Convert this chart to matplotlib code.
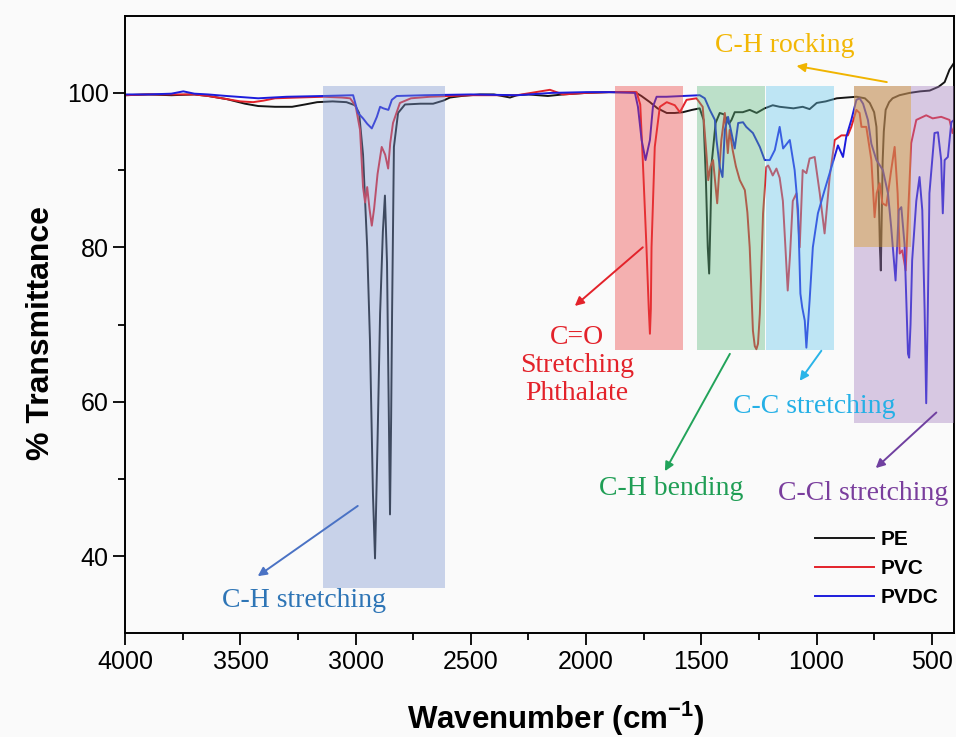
import matplotlib
matplotlib.use("Agg")
import matplotlib.pyplot as plt

# FTIR spectra (wavenumber, % transmittance)
pe_wn = [4000, 3900, 3800, 3700, 3640, 3560, 3480, 3423, 3350, 3276, 3220, 3167, 3100, 3040,
         3003, 2985, 2968, 2950, 2938, 2925, 2916, 2905, 2894, 2882, 2873, 2864, 2856, 2851,
         2846, 2842, 2834, 2816, 2786, 2720, 2664, 2620, 2591, 2540, 2461, 2400, 2330, 2300,
         2250, 2166, 2100, 2000, 1900, 1788, 1760, 1723, 1690, 1650, 1615, 1580, 1540, 1507,
         1490, 1480, 1472, 1466, 1460, 1455, 1438, 1420, 1400, 1380, 1369, 1355, 1320, 1290,
         1260, 1225, 1190, 1160, 1100, 1060, 1030, 999, 960, 912, 870, 826, 790, 769, 750,
         740, 730, 725, 721, 717, 713, 708, 700, 685, 670, 640, 596, 550, 509, 470, 444, 423, 403]
pe_t = [99.7, 99.8, 99.7, 99.8, 99.6, 99.2, 98.6, 98.3, 98.2, 98.2, 98.5, 98.8, 98.9, 98.8,
        98.4, 97.4, 92.0, 80.0, 68.0, 48.0, 39.7, 55.0, 71.4, 82.0, 86.7, 78.0, 58.0, 45.4,
        58.0, 71.4, 93.0, 97.4, 98.5, 98.6, 98.6, 99.0, 99.4, 99.6, 99.8, 99.8, 99.4, 99.7,
        99.8, 99.6, 99.8, 100.0, 100.1, 100.1, 99.6, 98.8, 98.0, 97.4, 97.4, 97.5, 97.8, 98.0,
        96.5, 88.7, 80.0, 76.6, 84.0, 90.9, 96.1, 97.4, 97.2, 96.0, 96.5, 97.5, 97.5, 97.8,
        97.4, 98.0, 98.4, 98.2, 98.0, 98.2, 97.9, 98.7, 98.9, 99.3, 99.4, 99.5, 99.3, 98.7, 97.5,
        95.6, 87.0, 80.0, 77.0, 84.0, 91.2, 95.0, 97.8, 98.8, 99.3, 99.7, 100.0, 100.2, 100.3,
        100.8, 101.4, 103.0, 103.9]

pvc_wn = [4000, 3900, 3800, 3700, 3640, 3560, 3500, 3445, 3400, 3350, 3250, 3141, 3060, 3024,
          3000, 2981, 2968, 2959, 2950, 2940, 2930, 2920, 2905, 2887, 2872, 2859, 2850, 2838,
          2808, 2760, 2677, 2500, 2300, 2157, 2100, 2000, 1900, 1781, 1765, 1754, 1738, 1728,
          1723, 1719, 1716, 1702, 1680, 1650, 1615, 1593, 1564, 1521, 1494, 1478, 1470, 1460,
          1449, 1440, 1431, 1422, 1413, 1398, 1385, 1377, 1364, 1350, 1333, 1311, 1300, 1290,
          1276, 1268, 1261, 1254, 1246, 1232, 1218, 1210, 1203, 1190, 1174, 1160, 1146, 1135,
          1125, 1115, 1103, 1087, 1073, 1060, 1044, 1030, 1008, 986, 965, 943, 921, 892, 864,
          849, 827, 813, 805, 784, 762, 748, 739, 726, 714, 697, 676, 661, 648, 639, 628, 613,
          605, 589, 567, 524, 496, 459, 423, 410, 403]
pvc_t = [99.7, 99.8, 99.8, 99.8, 99.6, 99.2, 98.9, 98.8, 99.0, 99.3, 99.4, 99.5, 99.4, 99.3,
         98.3, 95.2, 87.8, 85.8, 87.8, 85.0, 82.8, 85.0, 89.5, 93.0, 92.0, 90.2, 93.5, 96.1,
         98.7, 99.3, 99.5, 99.7, 99.7, 100.4, 99.8, 100.0, 100.1, 100.1, 98.5, 91.3, 80.0, 72.0,
         68.8, 72.0, 80.0, 93.0, 98.2, 98.8, 98.4, 97.5, 99.1, 99.3, 98.2, 92.2, 88.7, 90.5,
         91.3, 88.5, 85.7, 90.0, 93.9, 97.4, 92.2, 95.2, 92.6, 90.5, 88.7, 87.4, 84.5, 80.0,
         69.2, 67.2, 66.8, 67.5, 71.4, 84.4, 90.4, 90.6, 90.2, 89.3, 90.2, 89.0, 86.0, 80.0,
         74.4, 79.0, 86.0, 87.0, 80.0, 90.0, 89.6, 91.5, 91.7, 87.0, 81.8, 89.1, 93.9, 94.5, 94.5,
         95.6, 97.8, 97.4, 95.6, 95.6, 91.3, 83.9, 87.0, 88.3, 85.7, 85.4, 90.0, 93.0, 87.0, 79.2,
         79.6, 77.0, 82.6, 93.5, 96.5, 97.1, 96.7, 96.9, 96.5, 94.8, 95.5]

pvdc_wn = [4000, 3900, 3800, 3748, 3700, 3640, 3560, 3423, 3300, 3141, 3011, 2990, 2968, 2950,
           2930, 2918, 2908, 2894, 2880, 2858, 2843, 2822, 2700, 2500, 2300, 2150, 2000, 1900,
           1788, 1775, 1759, 1742, 1723, 1710, 1694, 1651, 1580, 1507, 1485, 1463, 1441, 1434,
           1420, 1408, 1398, 1384, 1369, 1355, 1340, 1319, 1305, 1276, 1246, 1225, 1203, 1181,
           1160, 1145, 1116, 1095, 1080, 1070, 1062, 1051, 1044, 1030, 1016, 994, 965, 935, 907,
           885, 871, 849, 827, 813, 798, 777, 762, 740, 712, 690, 676, 657, 643, 632, 618, 603,
           598, 592, 585, 567, 553, 541, 531, 524, 517, 510, 488, 473, 459, 452, 444, 430, 415, 403]
pvdc_t = [99.8, 99.8, 99.9, 100.2, 99.9, 99.8, 99.6, 99.3, 99.5, 99.6, 99.7, 97.4, 96.7, 96.0,
          95.4, 96.2, 96.9, 98.2, 98.0, 97.8, 99.1, 99.6, 99.7, 99.8, 99.7, 100.0, 100.1, 100.1,
          100.0, 98.2, 93.9, 91.3, 93.9, 98.2, 99.5, 99.5, 99.6, 99.7, 99.3, 97.8, 96.5, 93.9,
          90.4, 89.1, 95.2, 96.9, 94.8, 92.8, 96.1, 96.2, 95.6, 94.8, 93.0, 91.3, 91.3, 92.6,
          95.6, 92.8, 93.9, 90.0, 84.8, 74.0, 72.2, 70.5, 67.0, 73.1, 80.0, 84.4, 87.4, 90.4, 93.2,
          91.7, 94.3, 96.5, 99.1, 99.3, 98.6, 96.5, 93.4, 91.3, 90.0, 87.0, 82.6, 75.7, 84.8, 85.2,
          80.4, 66.2, 65.7, 70.0, 78.3, 86.0, 89.1, 84.8, 72.0, 59.8, 72.0, 87.0, 94.8, 94.9, 91.3,
          84.4, 91.3, 91.7, 96.2, 96.5]

series_names = ["PE", "PVC", "PVDC"]

# highlighted bands: (high wn, low wn, bottom %T, top %T)
band_ch_stretch = (3141, 2612, 35.9, 100.9)
band_co = (1875, 1579, 66.7, 100.9)
band_ch_bend = (1519, 1222, 66.7, 100.9)
band_cc = (1218, 926, 66.7, 100.9)
band_ccl = (839, 403, 57.2, 100.9)
band_ch_rock = (839, 589, 80.0, 100.9)

plt.rcParams['font.family'] = ['Liberation Sans', 'DejaVu Sans']
plt.rcParams['mathtext.default'] = 'regular'

bg = '#fafafa'
fig = plt.figure(figsize=(9.56, 7.37), dpi=100, facecolor=bg)
ax = fig.add_axes([0.131, 0.1407, 0.867, 0.838], facecolor=bg)

l1, = ax.plot(pe_wn, pe_t, color='#151515', lw=1.4, zorder=2)
l2, = ax.plot(pvc_wn, pvc_t, color='#e3222a', lw=1.4, zorder=2)
l3, = ax.plot(pvdc_wn, pvdc_t, color='#1c1cdc', lw=1.4, zorder=2)

def band(b, color, alpha=0.4):
    hi, lo, bot, top = b
    ax.fill_between([hi, lo], bot, top, color=color, alpha=alpha, lw=0, zorder=3)

band(band_ch_stretch, '#7d98d0')
band(band_co, '#eb4343')
band(band_ch_bend, '#5fb980')
band(band_cc, '#66c6eb')
band(band_ccl, '#a37dbe')
band(band_ch_rock, '#d89b1a')

serif = ['Liberation Serif', 'DejaVu Serif']
arrow = lambda c: dict(arrowstyle='-|>', color=c, lw=1.4, mutation_scale=13, shrinkA=0, shrinkB=0)

ax.annotate('', xy=(3425, 37.4), xytext=(2991, 46.5), arrowprops=arrow('#4a72c4'), zorder=4)
ax.text(3225, 34.3, 'C-H stretching', color='#2e75b6', fontsize=20, family=serif,
        ha='center', va='center')

ax.annotate('', xy=(2049, 72.4), xytext=(1754, 80.0), arrowprops=arrow('#e3222a'), zorder=4)
ax.text(2040, 64.7, 'C=O\nStretching\nPhthalate', color='#e3222a', fontsize=20, family=serif,
        ha='center', va='center', linespacing=1.15)

ax.annotate('', xy=(1658, 51.0), xytext=(1376, 66.2), arrowprops=arrow('#22a35a'), zorder=4)
ax.text(1632, 48.8, 'C-H bending', color='#1f9e55', fontsize=20, family=serif,
        ha='center', va='center')

ax.annotate('', xy=(1073, 62.7), xytext=(979, 66.6), arrowprops=arrow('#2ab4e8'), zorder=4)
ax.text(1010, 59.4, 'C-C stretching', color='#25b0e6', fontsize=20, family=serif,
        ha='center', va='center', zorder=5)

ax.annotate('', xy=(743, 51.4), xytext=(480, 58.6), arrowprops=arrow('#7040a0'), zorder=4)
ax.text(799, 48.1, 'C-Cl stretching', color='#7a3e9d', fontsize=20, family=serif,
        ha='center', va='center')

ax.annotate('', xy=(1087, 103.5), xytext=(695, 101.4), arrowprops=arrow('#f0b400'), zorder=4)
ax.text(1138, 106.2, 'C-H rocking', color='#f2b705', fontsize=20, family=serif,
        ha='center', va='center')

ax.set_xlim(4000, 403)
ax.set_ylim(30, 110)
ax.set_xticks([4000, 3500, 3000, 2500, 2000, 1500, 1000, 500])
ax.set_xticks([3750, 3250, 2750, 2250, 1750, 1250, 750], minor=True)
ax.set_yticks([40, 60, 80, 100])
ax.set_yticks([50, 70, 90], minor=True)
ax.tick_params(which='both', direction='out', top=False, right=False, width=1.3, labelsize=18)
ax.tick_params(which='major', length=8.5)
ax.tick_params(which='minor', length=5)
for s in ax.spines.values():
    s.set_linewidth(1.4)

ax.set_xlabel('Wavenumber (cm$^{-1}$)', fontsize=22.5, fontweight='bold')
ax.set_ylabel('% Transmittance', fontsize=23, fontweight='bold')
ax.xaxis.set_label_coords(0.519, -0.108)
ax.yaxis.set_label_coords(-0.084, 0.486)

ax.legend([l1, l2, l3], series_names, loc='upper left', bbox_to_anchor=(0.832, 0.167),
          frameon=False, prop=dict(family='Liberation Sans', weight='bold', size=15),
          handlelength=2.86, handletextpad=0.32, labelspacing=0.48, borderpad=0,
          borderaxespad=0)

fig.savefig('out.png', dpi=100, facecolor=bg)
